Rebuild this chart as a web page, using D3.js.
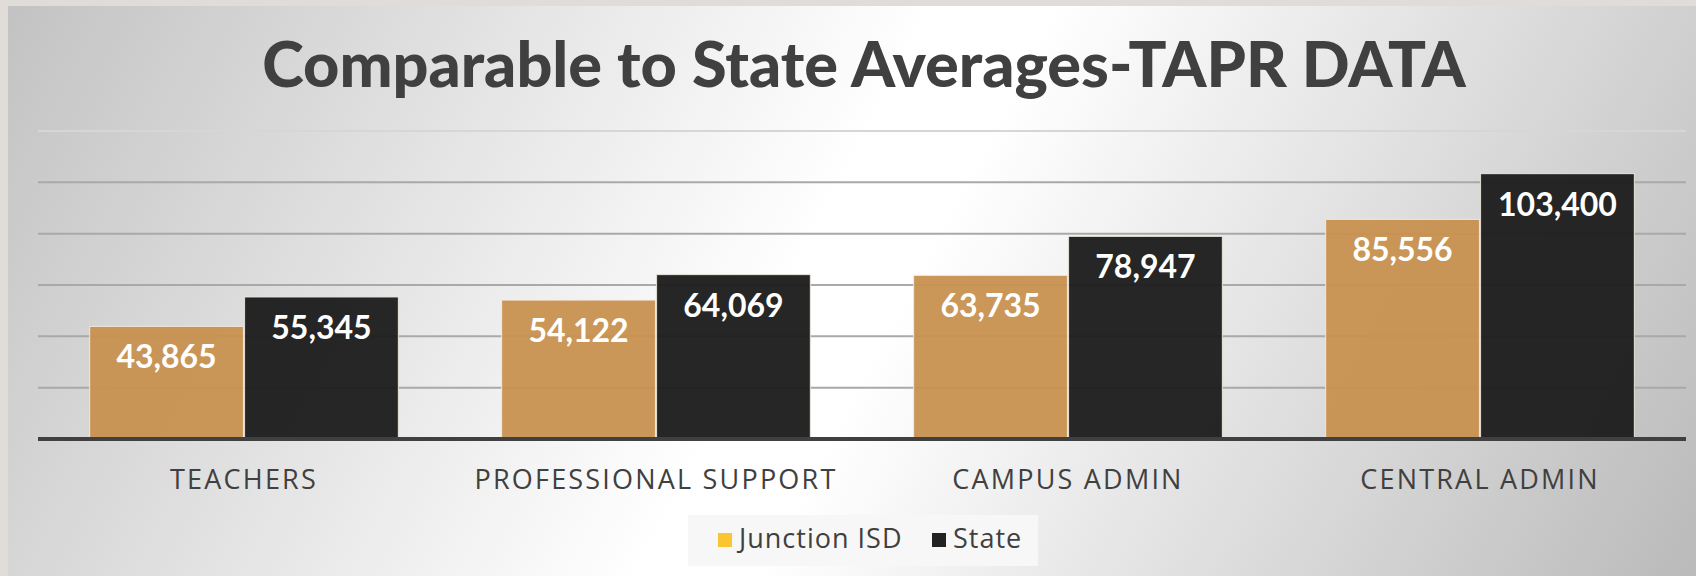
<!DOCTYPE html>
<html>
<head>
<meta charset="utf-8">
<script src="https://cdn.jsdelivr.net/npm/d3@7"></script>
<style>
  body { margin: 0; background: #e0ddd8; }
  svg { display: block; }
</style>
</head>
<body>
<svg></svg>
<script>
const width = 1696;
const height = 576;

const categories = ["TEACHERS", "PROFESSIONAL SUPPORT", "CAMPUS ADMIN", "CENTRAL ADMIN"];
const seriesNames = ["Junction ISD", "State"];
const junctionValues = [43865, 54122, 63735, 85556];
const stateValues = [55345, 64069, 78947, 103400];
const yTicks = [0, 20000, 40000, 60000, 80000, 100000, 120000];

const barColors = ["#c8914f", "#1f1f1f"];
const legendColors = ["#fbc531", "#222222"];

const svg = d3.select("svg")
    .attr("width", width)
    .attr("height", height);

// slide background, white band running diagonally across grey
const defs = svg.append("defs");
const grad = defs.append("linearGradient")
    .attr("id", "bg")
    .attr("gradientUnits", "userSpaceOnUse")
    .attr("x1", 0).attr("y1", 0)
    .attr("x2", 1570).attr("y2", 818);
grad.append("stop").attr("offset", "0").attr("stop-color", "#c2c2c2");
grad.append("stop").attr("offset", "0.47").attr("stop-color", "#ffffff");
grad.append("stop").attr("offset", "0.53").attr("stop-color", "#ffffff");
grad.append("stop").attr("offset", "1").attr("stop-color", "#bababa");

svg.append("rect")
    .attr("width", width).attr("height", height)
    .attr("fill", "#e0ddd8");
svg.append("rect")
    .attr("x", 8).attr("y", 6)
    .attr("width", width - 8).attr("height", height - 6)
    .attr("fill", "url(#bg)");

// title
svg.append("text")
    .attr("x", 864)
    .attr("y", 87)
    .attr("text-anchor", "middle")
    .attr("font-family", "Lato")
    .attr("font-weight", 900)
    .attr("font-size", 63)
    .attr("fill", "#404040")
    .text("Comparable to State Averages-TAPR DATA");

const plotLeft = 38, plotRight = 1686;
const baseY = 439, topY = 131;

const x0 = d3.scaleBand()
    .domain(categories)
    .range([plotLeft, plotRight])
    .paddingInner(0.248)
    .paddingOuter(0.124);

const x1 = d3.scaleBand()
    .domain(seriesNames)
    .range([0, x0.bandwidth()]);

const y = d3.scaleLinear()
    .domain([0, 120000])
    .range([baseY, topY]);

// gridlines
svg.append("g")
    .selectAll("line")
    .data(yTicks.filter(d => d > 0))
    .join("line")
    .attr("x1", plotLeft)
    .attr("x2", plotRight)
    .attr("y1", d => y(d))
    .attr("y2", d => y(d))
    .attr("stroke", d => d === 120000 ? "#d6d6d6" : "#a9a9a9")
    .attr("stroke-width", 2);

const rows = categories.map((c, i) => ({
    category: c,
    values: [junctionValues[i], stateValues[i]]
}));

const groups = svg.append("g")
    .selectAll("g")
    .data(rows)
    .join("g")
    .attr("transform", d => `translate(${x0(d.category)},0)`);

const bars = groups.selectAll("g")
    .data(d => d.values.map((v, j) => ({ series: seriesNames[j], value: v, idx: j })))
    .join("g");

bars.append("rect")
    .attr("x", d => x1(d.series) + 0.5)
    .attr("y", d => y(d.value))
    .attr("width", x1.bandwidth() - 1)
    .attr("height", d => baseY - y(d.value))
    .attr("fill", d => barColors[d.idx])
    .attr("fill-opacity", d => d.idx === 0 ? 0.95 : 0.97)
    .attr("stroke", "#f2ece4")
    .attr("stroke-opacity", 0.8)
    .attr("stroke-width", 1.2);

bars.append("text")
    .attr("x", d => x1(d.series) + x1.bandwidth() / 2)
    .attr("y", d => y(d.value) + 42)
    .attr("text-anchor", "middle")
    .attr("font-family", "Lato")
    .attr("font-weight", 700)
    .attr("font-size", 32)
    .attr("fill", "#ffffff")
    .text(d => d3.format(",")(d.value));

// baseline axis
svg.append("line")
    .attr("x1", plotLeft).attr("x2", plotRight)
    .attr("y1", baseY).attr("y2", baseY)
    .attr("stroke", "#404040")
    .attr("stroke-width", 4);

// category labels
svg.append("g")
    .selectAll("text")
    .data(categories)
    .join("text")
    .attr("x", d => x0(d) + x0.bandwidth() / 2)
    .attr("y", 489)
    .attr("text-anchor", "middle")
    .attr("font-family", "Open Sans")
    .attr("font-size", 27)
    .attr("letter-spacing", 2.2)
    .attr("fill", "#404040")
    .text(d => d);

// legend
const legend = svg.append("g");
legend.append("rect")
    .attr("x", 688).attr("y", 515)
    .attr("width", 350).attr("height", 51)
    .attr("fill", "#f7f7f7");

const legendX = [718, 932];
const legendItems = legend.selectAll("g")
    .data(seriesNames)
    .join("g")
    .attr("transform", (d, i) => `translate(${legendX[i]},0)`);

legendItems.append("rect")
    .attr("x", 0).attr("y", 533)
    .attr("width", 14).attr("height", 14)
    .attr("fill", (d, i) => legendColors[i]);

legendItems.append("text")
    .attr("x", 21)
    .attr("y", 548)
    .attr("font-family", "Open Sans")
    .attr("font-size", 27)
    .attr("letter-spacing", 1)
    .attr("fill", "#404040")
    .text(d => d);
</script>
</body>
</html>
